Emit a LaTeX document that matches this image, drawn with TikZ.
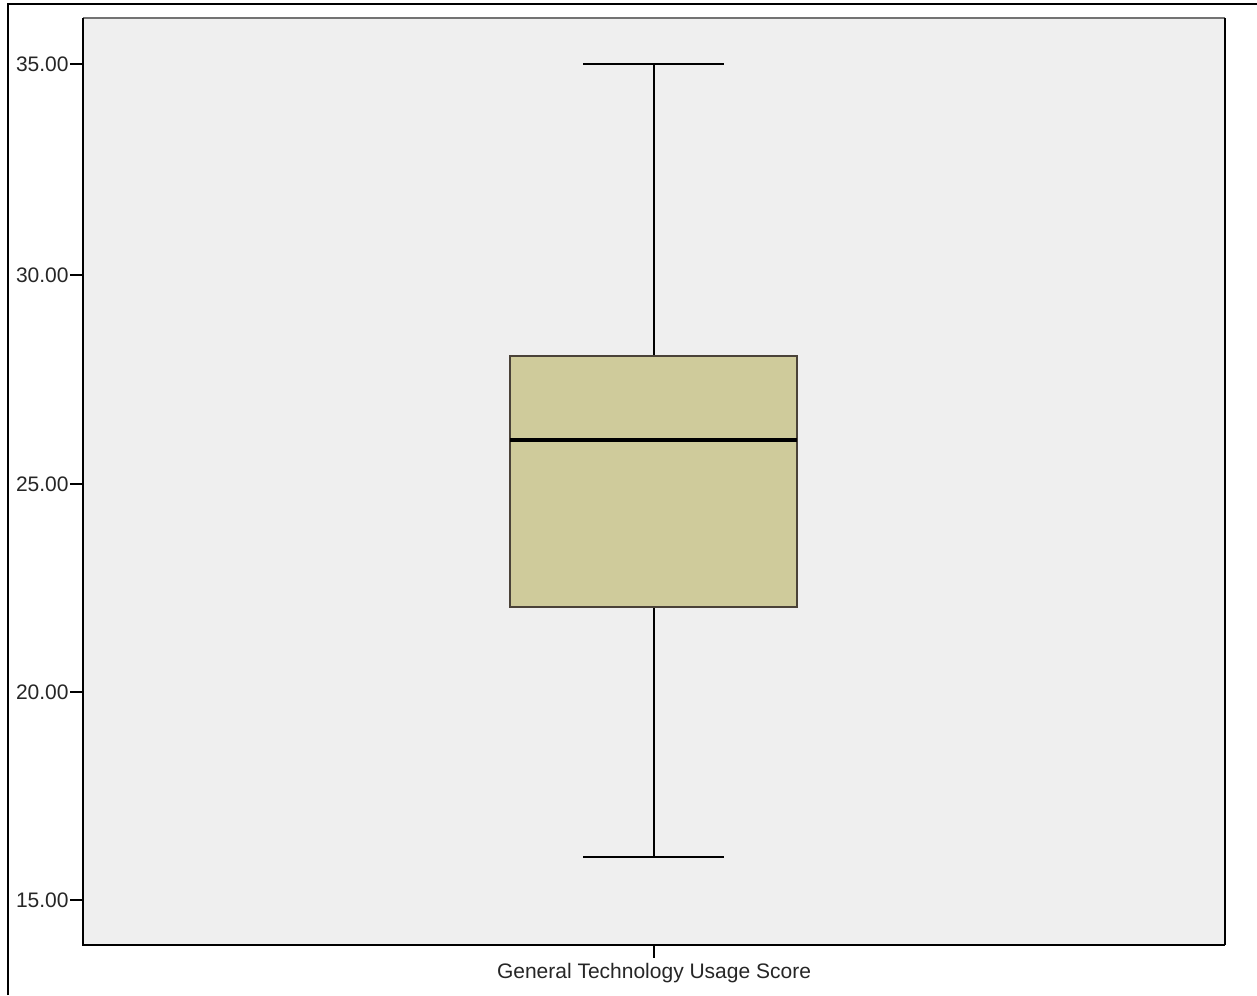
\documentclass[tikz,border=0pt]{standalone}
\usepackage{fontspec}
\setmainfont{Liberation Sans}
\definecolor{plotbg}{HTML}{EFEFEF}
\definecolor{boxfill}{HTML}{CFCB9B}
\definecolor{boxedge}{HTML}{4A4238}
\begin{document}
\begin{tikzpicture}[x=0.5pt,y=-0.5pt,
  ticklbl/.style={anchor=east,inner sep=0pt,font=\fontsize{10.5}{12}\selectfont,text=black!85},
  axlbl/.style={anchor=center,inner sep=0pt,font=\fontsize{10.5}{12}\selectfont,text=black!85},
  wline/.style={line width=1.3pt,black},
  frameline/.style={line width=0.9pt,black}]
\useasboundingbox[fill=white] (0,0) rectangle (1257,995);
% outer frame
\draw[line width=0.8pt] (8,995) -- (8,4) -- (1257,4);
% plot area
\fill[plotbg] (83,18) rectangle (1225,945);
\draw[line width=1pt,black!55] (83,18) -- (1225,18);
\draw[frameline] (1225,18) -- (1225,945);
\draw[frameline] (83,18) -- (83,945) -- (1225,945);
% y ticks
\foreach \v/\yy in {35.00/64,30.00/275,25.00/484,20.00/692,15.00/900}{
  \draw[line width=1.2pt] (70,\yy) -- (83,\yy);
  \node[ticklbl] at (69,\yy) {\v};
}
% x tick
\draw[line width=1.4pt] (654,945) -- (654,958);
\node[axlbl] (xl) at (654,973) {General Technology Usage Score};
% whiskers
\coordinate (wmax) at (654,64);
\coordinate (q3) at (654,356);
\coordinate (q1) at (654,607);
\coordinate (wmin) at (654,857);
\draw[wline] (wmax) -- (q3);
\draw[wline] (q1) -- (wmin);
\draw[wline] (583,64) -- (724,64);
\draw[wline] (583,857) -- (724,857);
% box
\draw[boxedge,line width=1.1pt,fill=boxfill] (510,356) rectangle (797,607);
\draw[line width=1.6pt,black] (510,440) -- (797,440);
\end{tikzpicture}
\end{document}
